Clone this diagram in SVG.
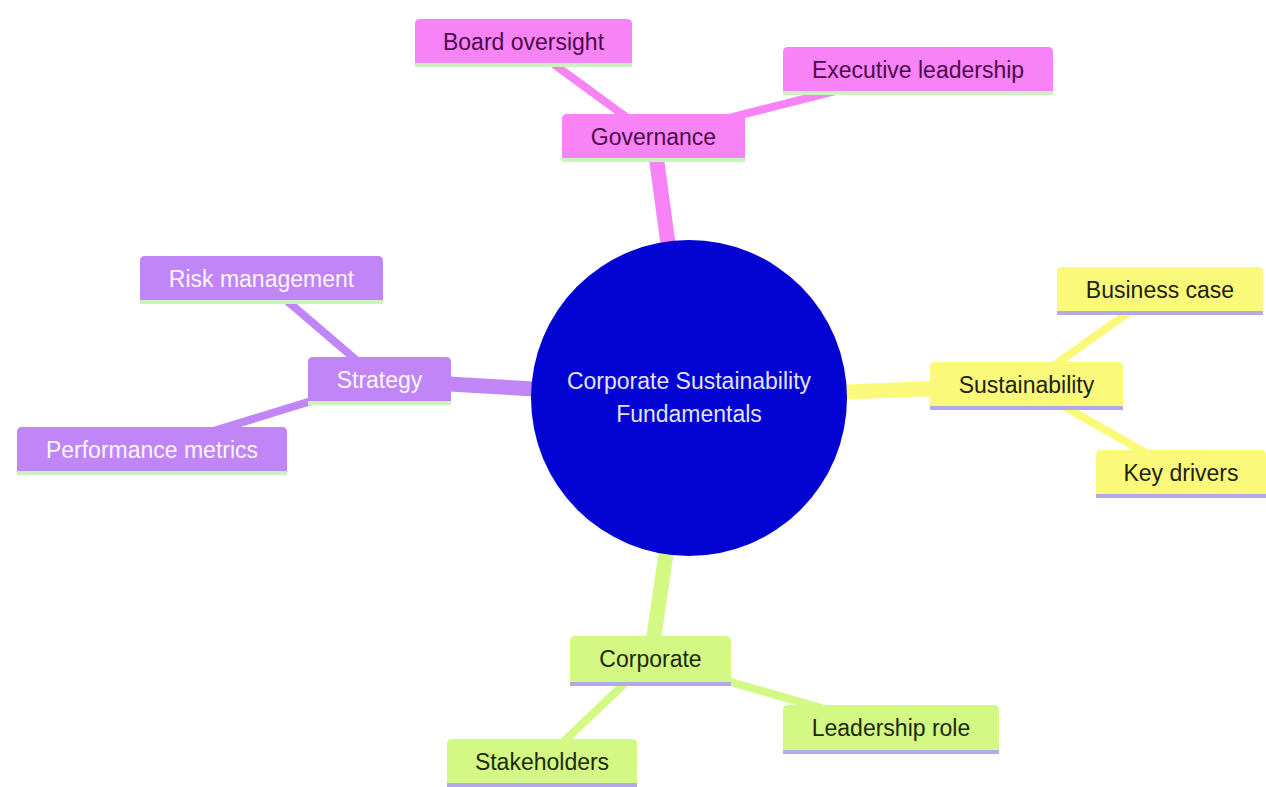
<svg xmlns="http://www.w3.org/2000/svg" width="1266" height="787" viewBox="0 0 1266 787">
<style>
text{font-family:"Liberation Sans",Arial,sans-serif;font-size:23px;text-anchor:middle}
.e{fill:none;stroke-linecap:butt}
.e0{stroke-width:15}
.e1{stroke-width:8}
.pk{fill:#f883f6;stroke:#f883f6}
.yl{fill:#fbf97a;stroke:#fbf97a}
.gr{fill:#d3f884;stroke:#d3f884}
.pu{fill:#c085f6;stroke:#c085f6}
.box{stroke:none}
.lg{stroke:#ccf3bf;stroke-width:4}
.lv{stroke:#b3a8ea;stroke-width:4}
.tpk{fill:#4a0b4a}
.tyl{fill:#222211}
.tgr{fill:#1d2a0a}
.tpu{fill:#fdf6ff}
</style>
<rect width="1266" height="787" fill="#ffffff"/>
<g id="connectors">
<line class="e e0 pk" x1="689" y1="398" x2="653.5" y2="137"/>
<line class="e e1 pk" x1="653.5" y1="137" x2="523.5" y2="42"/>
<line class="e e1 pk" x1="653.5" y1="137" x2="918" y2="70"/>
<line class="e e0 yl" x1="689" y1="398" x2="1026.5" y2="385"/>
<line class="e e1 yl" x1="1026.5" y1="385" x2="1160" y2="290"/>
<line class="e e1 yl" x1="1026.5" y1="385" x2="1181" y2="473"/>
<line class="e e0 pu" x1="689" y1="398" x2="379.5" y2="380"/>
<line class="e e1 pu" x1="379.5" y1="380" x2="261.5" y2="279"/>
<line class="e e1 pu" x1="379.5" y1="380" x2="152" y2="450"/>
<line class="e e0 gr" x1="689" y1="398" x2="650.5" y2="659"/>
<line class="e e1 gr" x1="650.5" y1="659" x2="891" y2="728"/>
<line class="e e1 gr" x1="650.5" y1="659" x2="542" y2="762"/>
</g>
<g id="root">
<circle cx="689" cy="398" r="158" fill="#0303d4"/>
<text x="689" y="389" fill="#e2e2f2">Corporate Sustainability</text>
<text x="689" y="422" fill="#e2e2f2">Fundamentals</text>
</g>
<g id="governance">
<path class="box pk" d="M562 160 V119 Q562 114 567 114 H740 Q745 114 745 119 V160 Z"/>
<line class="lg" x1="562" y1="160" x2="745" y2="160"/>
<text class="tpk" x="653.5" y="145">Governance</text>
</g>
<g id="board-oversight">
<path class="box pk" d="M415 65 V24 Q415 19 420 19 H627 Q632 19 632 24 V65 Z"/>
<line class="lg" x1="415" y1="65" x2="632" y2="65"/>
<text class="tpk" x="523.5" y="50">Board oversight</text>
</g>
<g id="executive-leadership">
<path class="box pk" d="M783 93 V52 Q783 47 788 47 H1048 Q1053 47 1053 52 V93 Z"/>
<line class="lg" x1="783" y1="93" x2="1053" y2="93"/>
<text class="tpk" x="918" y="78">Executive leadership</text>
</g>
<g id="sustainability">
<path class="box yl" d="M930 408 V367 Q930 362 935 362 H1118 Q1123 362 1123 367 V408 Z"/>
<line class="lv" x1="930" y1="408" x2="1123" y2="408"/>
<text class="tyl" x="1026.5" y="393">Sustainability</text>
</g>
<g id="business-case">
<path class="box yl" d="M1057 313 V272 Q1057 267 1062 267 H1258 Q1263 267 1263 272 V313 Z"/>
<line class="lv" x1="1057" y1="313" x2="1263" y2="313"/>
<text class="tyl" x="1160" y="298">Business case</text>
</g>
<g id="key-drivers">
<path class="box yl" d="M1096 496 V455 Q1096 450 1101 450 H1261 Q1266 450 1266 455 V496 Z"/>
<line class="lv" x1="1096" y1="496" x2="1266" y2="496"/>
<text class="tyl" x="1181" y="481">Key drivers</text>
</g>
<g id="strategy">
<path class="box pu" d="M308 403 V362 Q308 357 313 357 H446 Q451 357 451 362 V403 Z"/>
<line class="lg" x1="308" y1="403" x2="451" y2="403"/>
<text class="tpu" x="379.5" y="388">Strategy</text>
</g>
<g id="risk-management">
<path class="box pu" d="M140 302 V261 Q140 256 145 256 H378 Q383 256 383 261 V302 Z"/>
<line class="lg" x1="140" y1="302" x2="383" y2="302"/>
<text class="tpu" x="261.5" y="287">Risk management</text>
</g>
<g id="performance-metrics">
<path class="box pu" d="M17 473 V432 Q17 427 22 427 H282 Q287 427 287 432 V473 Z"/>
<line class="lg" x1="17" y1="473" x2="287" y2="473"/>
<text class="tpu" x="152" y="458">Performance metrics</text>
</g>
<g id="corporate">
<path class="box gr" d="M570 684 V641 Q570 636 575 636 H726 Q731 636 731 641 V684 Z"/>
<line class="lv" x1="570" y1="684" x2="731" y2="684"/>
<text class="tgr" x="650.5" y="667">Corporate</text>
</g>
<g id="leadership-role">
<path class="box gr" d="M783 752 V710 Q783 705 788 705 H994 Q999 705 999 710 V752 Z"/>
<line class="lv" x1="783" y1="752" x2="999" y2="752"/>
<text class="tgr" x="891" y="736">Leadership role</text>
</g>
<g id="stakeholders">
<path class="box gr" d="M447 785 V744 Q447 739 452 739 H632 Q637 739 637 744 V785 Z"/>
<line class="lv" x1="447" y1="785" x2="637" y2="785"/>
<text class="tgr" x="542" y="770">Stakeholders</text>
</g>
</svg>
